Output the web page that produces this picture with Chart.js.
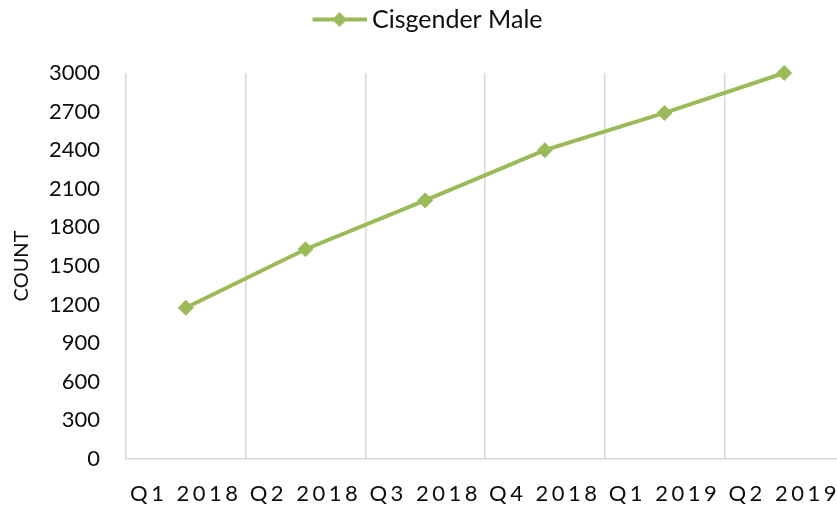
<!DOCTYPE html>
<html>
<head>
<meta charset="utf-8">
<script src="https://cdn.jsdelivr.net/npm/chart.js@4/dist/chart.umd.min.js"></script>
<style>
html, body { margin: 0; padding: 0; background: #fff; overflow: hidden; }
</style>
</head>
<body>
<!-- the plot area runs a little past the right edge in the reference, so the canvas is wider than the window -->
<canvas id="canvas" width="853" height="506"></canvas>
<script>
// data
var quarters = ['Q1 2018', 'Q2 2018', 'Q3 2018', 'Q4 2018', 'Q1 2019', 'Q2 2019'];
var cisgenderMale = [1175, 1630, 2010, 2400, 2690, 3000];
var seriesName = 'Cisgender Male';
var yMin = 0, yMax = 3000, yStep = 300;
var yTitle = 'COUNT';

var lineColor = '#9bbb59';
var gridColor = '#d9d9d9';
var textColor = '#0d0d0d';
var fontFamily = 'Lato, "Open Sans", sans-serif';

// legend sample: a short line with a diamond in the middle
function legendIcon(){
    var c = document.createElement('canvas');
    c.width = 72; c.height = 18;
    var g = c.getContext('2d');
    g.strokeStyle = lineColor;
    g.lineWidth = 4;
    g.beginPath(); g.moveTo(18, 9); g.lineTo(72, 9); g.stroke();
    g.fillStyle = lineColor;
    g.beginPath();
    g.moveTo(45, 1.5); g.lineTo(52.5, 9); g.lineTo(45, 16.5); g.lineTo(37.5, 9);
    g.closePath(); g.fill();
    return c;
}

// keep the legend at the top but leave room above the plot
var legendSpace = {
    id: 'legendSpace',
    beforeInit: function(chart){
        var fitLegend = chart.legend.fit;
        chart.legend.fit = function(){
            fitLegend.bind(chart.legend)();
            this.height = 73;
        };
    }
};

// x labels in the reference are spaced out, draw them after the line with letter spacing
var xLabelSpacing = {
    id: 'xLabelSpacing',
    afterDatasetsDraw: function(chart){ chart.ctx.letterSpacing = '3.5px'; },
    afterDraw: function(chart){ chart.ctx.letterSpacing = '0px'; }
};

var ctx = document.getElementById('canvas').getContext('2d');
var myChart = new Chart(ctx, {
    type: 'line',
    data: {
        labels: quarters,
        datasets: [{
            label: seriesName,
            data: cisgenderMale,
            borderColor: lineColor,
            backgroundColor: lineColor,
            borderWidth: 4,
            pointStyle: 'rectRot',
            pointRadius: 7.5,
            pointBorderWidth: 1,
            pointBackgroundColor: lineColor,
            pointBorderColor: lineColor,
            tension: 0,
            fill: false,
            clip: false
        }]
    },
    plugins: [legendSpace, xLabelSpacing],
    options: {
        responsive: false,
        animation: false,
        devicePixelRatio: 1,
        layout: { autoPadding: false, padding: { left: 0, right: 9, top: 0, bottom: 0 } },
        plugins: {
            legend: {
                position: 'top',
                labels: {
                    usePointStyle: true,
                    pointStyle: legendIcon(),
                    pointStyleWidth: 58,
                    color: textColor,
                    padding: 7,
                    font: { family: fontFamily, size: 25 }
                }
            },
            tooltip: { enabled: false }
        },
        scales: {
            x: {
                offset: true,
                grid: {
                    offset: true,
                    color: gridColor,
                    lineWidth: 1.5,
                    drawTicks: false
                },
                border: { display: true, color: gridColor, width: 1.5 },
                ticks: {
                    z: 1,
                    autoSkip: false,
                    maxRotation: 0,
                    minRotation: 0,
                    padding: 22,
                    color: textColor,
                    font: { family: fontFamily, size: 22 }
                },
                afterFit: function(scale){
                    scale.height = 47;
                    scale.paddingLeft = 0;
                    scale.paddingRight = 0;
                }
            },
            y: {
                min: yMin,
                max: yMax,
                grid: { display: false, drawTicks: false },
                border: { display: false },
                ticks: {
                    stepSize: yStep,
                    padding: 26,
                    color: textColor,
                    font: { family: fontFamily, size: 22 },
                    callback: function(value){ return String(value); }
                },
                title: {
                    display: true,
                    text: yTitle,
                    color: textColor,
                    padding: { top: 10, bottom: 0 },
                    font: { family: fontFamily, size: 20 }
                },
                afterFit: function(scale){
                    scale.width = 126;
                }
            }
        }
    }
});
</script>
</body>
</html>
